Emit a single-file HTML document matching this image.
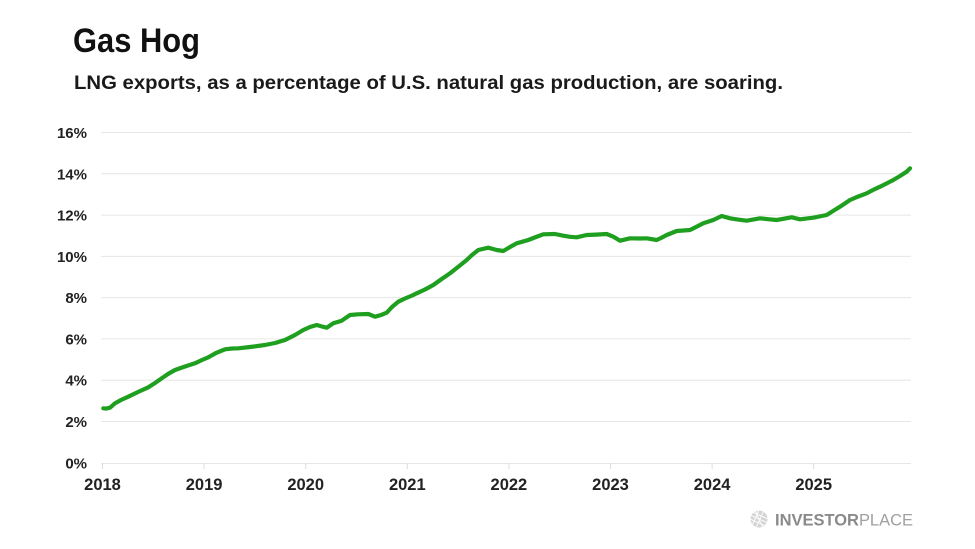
<!DOCTYPE html>
<html><head><meta charset="utf-8"><style>
html,body{margin:0;padding:0;background:#fff;}
svg{display:block;}
text{font-family:"Liberation Sans",Arial,sans-serif;}
</style></head><body>
<svg width="975" height="549" viewBox="0 0 975 549" xmlns="http://www.w3.org/2000/svg">
<rect width="975" height="549" fill="#fff"/>
<text x="73" y="52" font-size="34" font-weight="bold" fill="#111" textLength="127" lengthAdjust="spacingAndGlyphs">Gas Hog</text>
<text x="74" y="89" font-size="19.5" font-weight="bold" fill="#1a1a1a" textLength="709" lengthAdjust="spacingAndGlyphs">LNG exports, as a percentage of U.S. natural gas production, are soaring.</text>
<g stroke="#e6e6e6" stroke-width="1">
<line x1="101" y1="132.5" x2="911" y2="132.5"/>
<line x1="101" y1="173.8" x2="911" y2="173.8"/>
<line x1="101" y1="215.1" x2="911" y2="215.1"/>
<line x1="101" y1="256.4" x2="911" y2="256.4"/>
<line x1="101" y1="297.6" x2="911" y2="297.6"/>
<line x1="101" y1="338.9" x2="911" y2="338.9"/>
<line x1="101" y1="380.2" x2="911" y2="380.2"/>
<line x1="101" y1="421.5" x2="911" y2="421.5"/>
<line x1="101" y1="463.5" x2="911" y2="463.5"/>
</g>
<g stroke="#dcdcdc" stroke-width="1">
<line x1="102.5" y1="463" x2="102.5" y2="469"/>
<line x1="204.1" y1="463" x2="204.1" y2="469"/>
<line x1="305.7" y1="463" x2="305.7" y2="469"/>
<line x1="407.3" y1="463" x2="407.3" y2="469"/>
<line x1="508.9" y1="463" x2="508.9" y2="469"/>
<line x1="610.5" y1="463" x2="610.5" y2="469"/>
<line x1="712.1" y1="463" x2="712.1" y2="469"/>
<line x1="813.7" y1="463" x2="813.7" y2="469"/>
</g>
<g font-size="15" font-weight="bold" fill="#222" text-anchor="end">
<text x="87" y="138">16%</text>
<text x="87" y="179.3">14%</text>
<text x="87" y="220.6">12%</text>
<text x="87" y="261.9">10%</text>
<text x="87" y="303.1">8%</text>
<text x="87" y="344.4">6%</text>
<text x="87" y="385.7">4%</text>
<text x="87" y="427">2%</text>
<text x="87" y="468.5">0%</text>
</g>
<g font-size="16.5" font-weight="bold" fill="#222" text-anchor="middle">
<text x="102.5" y="490">2018</text>
<text x="204.1" y="490">2019</text>
<text x="305.7" y="490">2020</text>
<text x="407.3" y="490">2021</text>
<text x="508.9" y="490">2022</text>
<text x="610.5" y="490">2023</text>
<text x="712.1" y="490">2024</text>
<text x="813.7" y="490">2025</text>
</g>
<polyline fill="none" stroke="#1f9f1f" stroke-width="4.2" stroke-linejoin="round" stroke-linecap="round"
points="103.3,408.3 106,408.6 110,407.7 115,403.3 121,400 128.3,396.7 138,392 148.3,387.3 155,383 161.7,378.3 168,374 175,370 185,366.5 195,363.3 202,360 208.3,357.3 216,353 225,349.3 232,348.5 238.3,348.3 250,347 265,345 275,343 285,340 295,335 303.3,330 310,327 316.7,325 322,326.5 326.7,327.7 333.3,323.3 341.7,320.7 350,315 358,314.3 368.3,314 375,316.7 381,315 386.7,312.7 392,307 398.3,301.7 405,298.5 413.3,295 416.7,293.3 425,289.5 433.3,285 441,279.5 450,273.3 458,267 466.7,260 472,255 478.3,250 488.3,247.7 496.7,250 503.3,251 510,247 516.7,243.3 528.3,240 536,237 543.3,234.3 555,234 563.3,235.7 570,236.8 576.7,237.3 586.7,235 596,234.6 606.7,234 613.3,236.7 620,240.7 630,238.3 640,238.5 646.7,238.3 656.7,240 661,238 666.7,235 676.7,231 690,230 697,226.5 703.3,223.3 713.3,220 721.7,216 730,218.3 738,219.6 746.7,220.7 760,218.3 768,219.2 776.7,220 791.7,217.3 800,219.3 813.3,217.7 821.7,216 826.7,215 833,211 840,206.7 850,200 858,196.6 866.7,193.3 873,190 880,186.7 887,183.2 893.3,180 900,176 906.7,171.7 910,168.3"/>
<g transform="translate(759,519)">
<circle r="8.5" fill="#d4d4d4"/>
<g stroke="#fff" stroke-width="1" opacity="0.9">
<line x1="-9" y1="-4" x2="9" y2="4"/>
<line x1="-9" y1="0" x2="9" y2="8"/>
<line x1="-9" y1="-8" x2="9" y2="0"/>
<line x1="-4" y1="-9" x2="4" y2="9"/>
<line x1="0" y1="-9" x2="-8" y2="9"/>
<line x1="5" y1="-9" x2="-3" y2="9"/>
</g>
</g>
<text x="775" y="525.5" font-size="17" fill="#8a8a8a" textLength="138" lengthAdjust="spacingAndGlyphs"><tspan font-weight="bold">INVESTOR</tspan><tspan fill="#a0a0a0">PLACE</tspan></text>
</svg>
</body></html>
